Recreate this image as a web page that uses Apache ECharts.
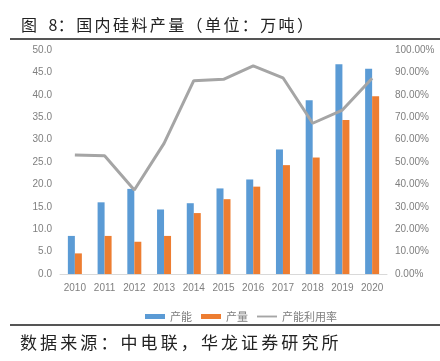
<!DOCTYPE html>
<html>
<head>
<meta charset="utf-8">
<script src="https://cdn.jsdelivr.net/npm/echarts@6/dist/echarts.min.js"></script>
<style>html,body{margin:0;padding:0;background:#fff;}#c{width:440px;height:361px;}</style>
</head>
<body>
<div id="c"></div>
<script>
const years = ['2010','2011','2012','2013','2014','2015','2016','2017','2018','2019','2020'];
const capacity = [8.5, 16.0, 19.0, 14.4, 15.8, 19.1, 21.1, 27.8, 38.8, 46.8, 45.8];
const output = [4.6, 8.5, 7.2, 8.5, 13.6, 16.7, 19.5, 24.3, 26.0, 34.4, 39.7];
const utilization = [53.1, 52.8, 37.5, 58.3, 86.3, 86.9, 92.9, 87.6, 67.3, 73.2, 87.4];
const seriesNames = ['产能', '产量', '产能利用率'];
const titleText = '图 8：国内硅料产量（单位：万吨）';
const sourceText = '数据来源：中电联，华龙证券研究所';

const cjk = '"Noto Sans CJK SC", sans-serif';
const num = '"Liberation Sans", Arial, sans-serif';

// lay out a CJK string with a fixed character pitch (ASCII takes half a pitch)
function spacedText(str, x0, yCenter, pitch, fontSize, color) {
  const els = [];
  let x = x0;
  for (const ch of str) {
    const half = ch.charCodeAt(0) < 128;
    if (ch !== ' ') {
      els.push({type: 'text', x: x, y: yCenter,
        style: {text: ch, font: fontSize + 'px ' + cjk, fill: color, textAlign: 'left', textVerticalAlign: 'middle'}});
    }
    x += half ? pitch / 2 : pitch;
  }
  return els;
}

const chart = echarts.init(document.getElementById('c'), null, {renderer: 'canvas'});
chart.setOption({
  animation: false,
  backgroundColor: '#fff',
  grid: {left: 60, right: 53, top: 50, bottom: 87, containLabel: false},
  legend: {
    data: [
      {name: seriesNames[0], icon: 'rect'},
      {name: seriesNames[1], icon: 'rect'},
      {name: seriesNames[2], icon: 'path://M0,0H32V3H0Z', itemStyle: {color: '#a5a5a5'}}
    ],
    top: 306,
    left: 140,
    itemWidth: 20, itemHeight: 5, itemGap: 9,
    textStyle: {color: '#7f7f7f', fontSize: 11, fontFamily: cjk}
  },
  xAxis: {
    type: 'category', data: years,
    axisLine: {lineStyle: {color: '#d9d9d9'}},
    axisTick: {show: false},
    axisLabel: {color: '#7f7f7f', fontSize: 10, fontFamily: num, margin: 9, interval: 0}
  },
  yAxis: [
    {type: 'value', min: 0, max: 50, interval: 5,
     splitLine: {show: false}, axisLine: {show: false}, axisTick: {show: false},
     axisLabel: {color: '#7f7f7f', fontSize: 10, fontFamily: num, margin: 8, formatter: v => v.toFixed(1)}},
    {type: 'value', min: 0, max: 100, interval: 10,
     splitLine: {show: false}, axisLine: {show: false}, axisTick: {show: false},
     axisLabel: {color: '#7f7f7f', fontSize: 10, fontFamily: num, margin: 8, formatter: v => v.toFixed(2) + '%'}}
  ],
  series: [
    {name: seriesNames[0], type: 'bar', data: capacity, barWidth: 7, barGap: '0%', itemStyle: {color: '#5b9bd5'}},
    {name: seriesNames[1], type: 'bar', data: output, barWidth: 7, barGap: '0%', itemStyle: {color: '#ed7d31'}},
    {name: seriesNames[2], type: 'line', yAxisIndex: 1, data: utilization, showSymbol: false, symbol: 'none',
     lineStyle: {color: '#a5a5a5', width: 3}, itemStyle: {color: '#a5a5a5'}}
  ],
  graphic: [
    ...spacedText(titleText, 21, 25, 18.4, 16, '#222'),
    {type: 'rect', shape: {x: 10, y: 38, width: 430, height: 2}, style: {fill: '#555'}},
    {type: 'rect', shape: {x: 10, y: 324, width: 430, height: 2}, style: {fill: '#555'}},
    ...spacedText(sourceText, 20, 343, 20.1, 17, '#222')
  ]
});
</script>
</body>
</html>
